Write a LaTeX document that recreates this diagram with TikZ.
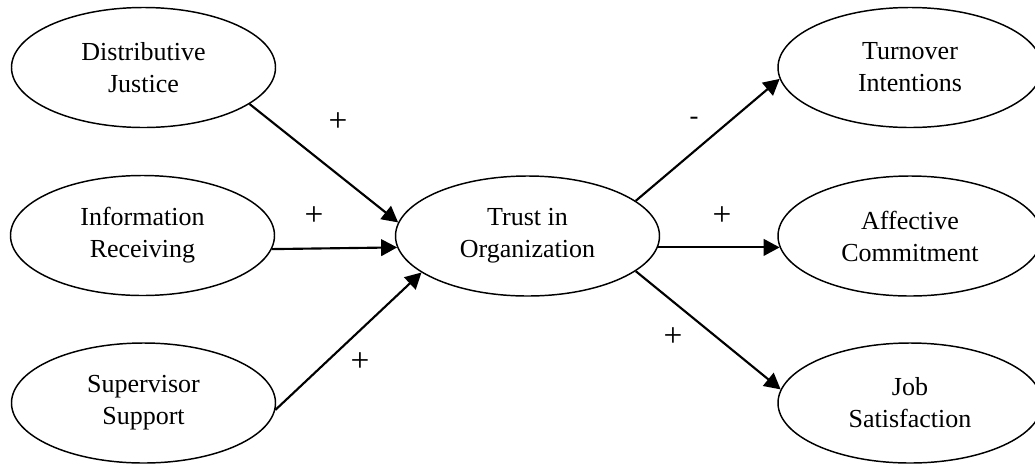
\documentclass[tikz,border=0pt]{standalone}
\usepackage{fontspec}
\setmainfont{Liberation Serif}
\usetikzlibrary{arrows.meta,shapes.geometric}

\begin{document}
\begin{tikzpicture}[
  x=0.75pt, y=-0.75pt,
  every node/.style={font=\fontsize{19.5}{24}\selectfont},
  construct/.style={draw,ellipse,line width=1.1pt,minimum width=198pt,
                    minimum height=90pt,align=center,inner sep=0pt},
  arr/.style={-{Triangle[length=12pt,width=12.5pt]},line width=1.6pt},
  sign/.style={inner sep=0pt,font=\fontsize{25}{25}\selectfont},
]
  \clip (0,0) rectangle (1035,465);

  % antecedents
  \node[construct] (justice) at (143.5, 67.5) {Distributive\\Justice};
  \node[construct] (info) at (142.5, 235.5) {Information\\Receiving};
  \node[construct] (support) at (143.5, 403) {Supervisor\\Support};

  % mediator
  \node[construct] (trust) at (527.5, 236) {Trust in\\Organization};

  % outcomes
  \node[construct] (turnover) at (910, 67.5) {Turnover\\Intentions};
  \node[construct] (affective) at (910, 236) {Affective\\Commitment};
  \node[construct] (jobsat) at (910, 403) {Job\\Satisfaction};

  % antecedents -> trust
  \draw[arr] (justice.-19) -- (trust.174);
  \draw[arr] (info.-6) -- (trust.185);
  \draw[arr] (support.-3) -- (trust.199);

  % trust -> outcomes
  \draw[arr] (trust.18) -- (turnover.185);
  \draw[arr] (trust.-5) -- (affective.185);
  \draw[arr] (trust.-18) -- (jobsat.174);

  % signs
  \node[sign] (sj) at (338, 122) {+};
  \node[sign] (si) at (314, 216) {+};
  \node[sign] (ss) at (360, 362) {+};
  \node[sign,font=\fontsize{20}{20}\selectfont] (st) at (694, 121) {-};
  \node[sign] (sa) at (722, 216) {+};
  \node[sign] (sjs) at (673, 337) {+};
\end{tikzpicture}
\end{document}
